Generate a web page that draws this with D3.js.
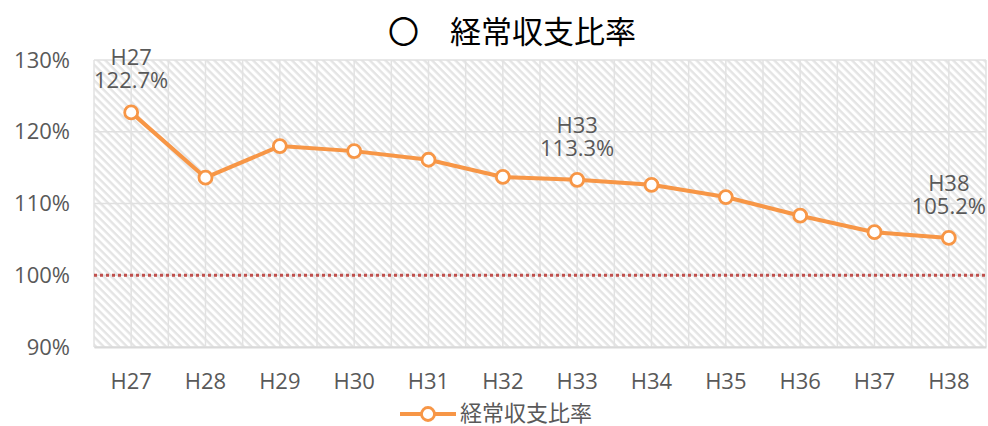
<!DOCTYPE html>
<html>
<head>
<meta charset="utf-8">
<script src="https://cdn.jsdelivr.net/npm/d3@7/dist/d3.min.js"></script>
<style>
  html, body { margin: 0; padding: 0; background: #fff; }
  svg text { font-family: "Open Sans", "Noto Sans CJK JP", sans-serif; }
  svg text.cjk { font-family: "Noto Sans CJK JP", "Open Sans", sans-serif; }
</style>
</head>
<body>
<svg id="chart" width="988" height="426"></svg>
<script>
// 経常収支比率 (%) by fiscal year
const years = ["H27", "H28", "H29", "H30", "H31", "H32", "H33", "H34", "H35", "H36", "H37", "H38"];
const ratio = [122.7, 113.6, 118.0, 117.3, 116.1, 113.7, 113.3, 112.6, 110.9, 108.3, 106.0, 105.2];
const yTicks = [90, 100, 110, 120, 130];
const baseline = 100;
const labelledYears = ["H27", "H33", "H38"];
const titleText = "〇　経常収支比率";
const seriesName = "経常収支比率";

const svg = d3.select("#chart");
const margin = { left: 94, right: 2, top: 60, bottom: 79 };
const W = 988, H = 426;
const plotW = W - margin.left - margin.right;
const plotH = H - margin.top - margin.bottom;

const x = d3.scaleBand().domain(years).range([margin.left, margin.left + plotW]).padding(0);
const y = d3.scaleLinear().domain([90, 130]).range([margin.top + plotH, margin.top]);
const cx = d => x(d) + x.bandwidth() / 2;

const orange = "#F79646";
const textGrey = "#595959";
const fs = 22;

// diagonal hatch fill for the plot area
const defs = svg.append("defs");
const pat = defs.append("pattern")
  .attr("id", "hatch").attr("patternUnits", "userSpaceOnUse")
  .attr("width", 5.5).attr("height", 5.5)
  .attr("patternTransform", "rotate(45)");
pat.append("rect").attr("width", 5.5).attr("height", 5.5).attr("fill", "#ffffff");
pat.append("rect").attr("x", 0).attr("y", 0).attr("width", 5.5).attr("height", 2.4).attr("fill", "#e4e4e4");

svg.append("rect")
  .attr("x", margin.left).attr("y", margin.top)
  .attr("width", plotW).attr("height", plotH)
  .attr("fill", "url(#hatch)");

// horizontal grid
svg.append("g").selectAll("line").data(yTicks).join("line")
  .attr("x1", margin.left).attr("x2", margin.left + plotW)
  .attr("y1", d => y(d)).attr("y2", d => y(d))
  .attr("stroke", "#e0e0e0").attr("stroke-width", 1.5);

// vertical grid at category edges and centres
const vLines = [];
years.forEach(d => { vLines.push(x(d)); vLines.push(cx(d)); });
vLines.push(margin.left + plotW);
svg.append("g").selectAll("line").data(vLines).join("line")
  .attr("x1", d => d).attr("x2", d => d)
  .attr("y1", margin.top).attr("y2", margin.top + plotH)
  .attr("stroke", "#e2e2e2").attr("stroke-width", 1.5);

// x axis
const xAxis = svg.append("g")
  .attr("transform", `translate(0,${margin.top + plotH})`)
  .call(d3.axisBottom(x).tickSize(0).tickPadding(26));
xAxis.select(".domain").attr("stroke", "#d9d9d9").attr("stroke-width", 2);
xAxis.selectAll("text").attr("fill", textGrey).attr("font-size", fs);

// y axis
const yAxis = svg.append("g")
  .attr("transform", `translate(${margin.left},0)`)
  .call(d3.axisLeft(y).tickValues(yTicks).tickFormat(d => d + "%").tickSize(0).tickPadding(24));
yAxis.select(".domain").remove();
yAxis.selectAll("text").attr("fill", textGrey).attr("font-size", fs);

// 100% reference line
svg.append("line")
  .attr("x1", margin.left).attr("x2", margin.left + plotW)
  .attr("y1", y(baseline)).attr("y2", y(baseline))
  .attr("stroke", "#C0504D").attr("stroke-width", 3)
  .attr("stroke-dasharray", "3,3");

// series line
const pts = years.map((d, i) => ({ year: d, v: ratio[i] }));
svg.append("path").datum(pts)
  .attr("fill", "none").attr("stroke", orange).attr("stroke-width", 4)
  .attr("stroke-linejoin", "round")
  .attr("d", d3.line().x(d => cx(d.year)).y(d => y(d.v)));

svg.append("g").selectAll("circle").data(pts).join("circle")
  .attr("cx", d => cx(d.year)).attr("cy", d => y(d.v)).attr("r", 6.5)
  .attr("fill", "#fff").attr("stroke", orange).attr("stroke-width", 2.8);

// data labels: year on the first line, value on the second
const labelled = pts.filter(d => labelledYears.includes(d.year));
const lab = svg.append("g").attr("fill", textGrey).attr("font-size", fs).attr("text-anchor", "middle");
lab.selectAll("text.yr").data(labelled).join("text").attr("class", "yr")
  .attr("x", d => cx(d.year)).attr("y", d => y(d.v) - 47).text(d => d.year);
lab.selectAll("text.val").data(labelled).join("text").attr("class", "val")
  .attr("x", d => cx(d.year)).attr("y", d => y(d.v) - 24).text(d => d.v.toFixed(1) + "%");

// title
svg.append("text").attr("class", "cjk")
  .attr("x", 512).attr("y", 43).attr("text-anchor", "middle")
  .attr("font-size", 31).attr("fill", "#000").text(titleText);

// legend
const lg = svg.append("g");
lg.append("line").attr("x1", 400).attr("x2", 456).attr("y1", 414).attr("y2", 414)
  .attr("stroke", orange).attr("stroke-width", 4);
lg.append("circle").attr("cx", 428).attr("cy", 414).attr("r", 6.5)
  .attr("fill", "#fff").attr("stroke", orange).attr("stroke-width", 2.8);
lg.append("text").attr("class", "cjk").attr("x", 460).attr("y", 421).attr("font-size", 22)
  .attr("fill", textGrey).text(seriesName);
</script>
</body>
</html>
